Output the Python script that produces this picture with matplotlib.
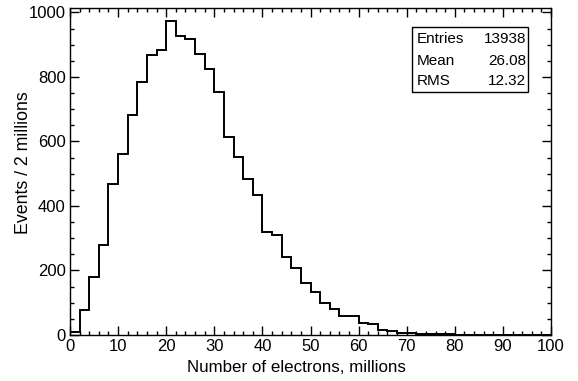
import numpy as np
import matplotlib
matplotlib.use("Agg")
import matplotlib.pyplot as plt
from matplotlib.patches import Rectangle
from matplotlib.ticker import MultipleLocator

plt.rcParams['font.family'] = ['Liberation Sans', 'DejaVu Sans']

bin_edges = np.arange(0, 102, 2)
counts = [10, 77, 181, 278, 467, 561, 683, 784, 867, 883,
          974, 926, 917, 871, 824, 754, 614, 553, 483, 435,
          319, 311, 242, 207, 161, 132, 98, 80, 58, 58,
          38, 33, 17, 13, 7, 7, 4, 3, 2, 2,
          1, 1, 1, 1, 0, 0, 0, 0, 0, 0]

stats_names = ["Entries", "Mean", "RMS"]
stats_values = ["13938", "26.08", "12.32"]

W, H = 578, 381
fig = plt.figure(figsize=(W / 100, H / 100), dpi=100)
ax = fig.add_axes([70 / W, 1 - 335 / H, 481 / W, (335 - 8.3) / H])

ax.stairs(counts, bin_edges, baseline=0, fill=False, color='black', linewidth=1.4)

ax.set_xlim(0, 100)
ax.set_ylim(0, 1013)
ax.xaxis.set_major_locator(MultipleLocator(10))
ax.xaxis.set_minor_locator(MultipleLocator(2))
ax.yaxis.set_major_locator(MultipleLocator(200))
ax.yaxis.set_minor_locator(MultipleLocator(50))
ax.tick_params(which='both', direction='in', top=True, right=True, width=1.0)
ax.tick_params(which='major', length=6.5, labelsize=12, pad=3)
ax.tick_params(which='minor', length=3.2)
for s in ax.spines.values():
    s.set_linewidth(1.0)

fig.text(406 / W, 1 - 368 / H, "Number of electrons, millions", ha='right', va='center', fontsize=12.2)
fig.text(24 / W, 1 - 163 / H, "Events / 2 millions", ha='center', va='center', rotation=90, fontsize=12.8)

# stat box
bx0, bx1, by_top, by_bot = 412, 528, 26.7, 92
fig.patches.append(Rectangle((bx0 / W, 1 - by_bot / H), (bx1 - bx0) / W, (by_bot - by_top) / H,
                             transform=fig.transFigure, fill=True, facecolor='white',
                             edgecolor='black', linewidth=1.0, zorder=5))
rows_y = [39, 61, 81]
for name, val, yy in zip(stats_names, stats_values, rows_y):
    fig.text(417 / W, 1 - yy / H, name, ha='left', va='center', fontsize=11, zorder=6)
    fig.text(526 / W, 1 - yy / H, val, ha='right', va='center', fontsize=11, zorder=6)

fig.savefig("out.png", dpi=100, facecolor='white')
